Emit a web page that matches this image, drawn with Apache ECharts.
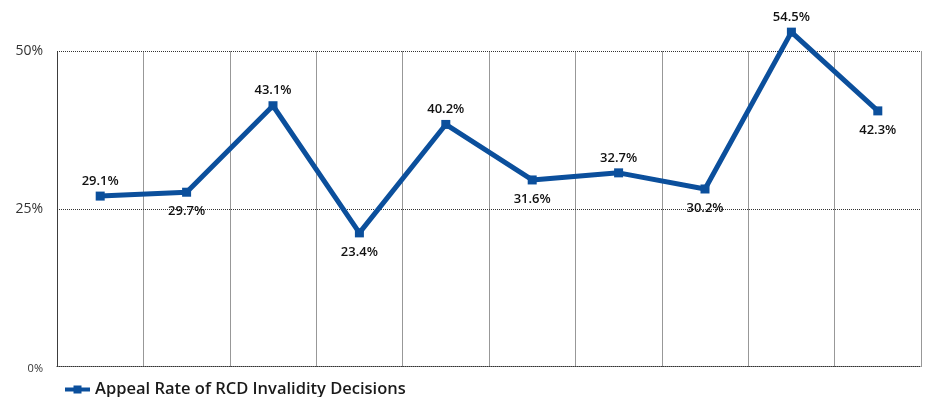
<!DOCTYPE html>
<html>
<head>
<meta charset="utf-8">
<script src="https://cdn.jsdelivr.net/npm/echarts@6/dist/echarts.min.js"></script>
<style>
  html, body { margin: 0; padding: 0; background: #fff; }
  #chart { width: 927px; height: 397px; }
</style>
</head>
<body>
<div id="chart"></div>
<script>
// Ten reporting periods (axis labels are not shown)
const periods = ['1', '2', '3', '4', '5', '6', '7', '8', '9', '10'];
// Appeal rate of RCD invalidity decisions, in percent
const appealRate = [29.1, 29.7, 43.1, 23.4, 40.2, 31.6, 32.7, 30.2, 54.5, 42.3];
// Where each value label sits relative to its point
const labelSide = ['top', 'bottom', 'top', 'bottom', 'top', 'bottom', 'top', 'bottom', 'top', 'bottom'];
// Value axis ticks
const yTicks = [0, 25, 50];

const seriesName = 'Appeal Rate of RCD Invalidity Decisions';
const lineColor = '#0b4f9c';
const gridDots = { color: '#333', type: [1, 1], width: 1 };

const chart = echarts.init(document.getElementById('chart'));

chart.setOption({
  animation: false,
  textStyle: { fontFamily: '"Open Sans", "Noto Sans", sans-serif' },
  grid: { left: 57, right: 6, top: 51.5, bottom: 30.5 },
  xAxis: {
    type: 'category',
    data: periods,
    boundaryGap: true,
    axisLine: { show: true, lineStyle: gridDots },
    axisTick: { show: false },
    axisLabel: { show: false },
    splitLine: { show: true, interval: 0, lineStyle: gridDots }
  },
  yAxis: [
    {
      type: 'value',
      min: yTicks[0],
      max: yTicks[yTicks.length - 1],
      interval: 25,
      axisLine: { show: true, lineStyle: gridDots },
      axisTick: { show: false },
      splitLine: { show: true, lineStyle: gridDots },
      axisLabel: {
        margin: 14,
        formatter: v => v === 0 ? '{s|' + v + '%}' : v + '%',
        color: '#333',
        fontSize: 14,
        rich: { s: { fontSize: 11, color: '#333', padding: [4, 0, 0, 0] } }
      }
    },
    {
      // scale used by the plotted series
      type: 'value',
      min: 2.7,
      max: 51.5,
      show: false,
      splitLine: { show: false }
    }
  ],
  legend: {
    left: 58,
    top: 376,
    itemWidth: 25,
    itemHeight: 10,
    itemGap: 8,
    lineStyle: { width: 4 },
    textStyle: { fontSize: 16.5, color: '#1a1a1a', fontWeight: 600 },
    data: [seriesName]
  },
  series: [{
    name: seriesName,
    type: 'line',
    yAxisIndex: 1,
    clip: false,
    data: appealRate.map((v, i) => ({
      value: v,
      label: { position: labelSide[i], distance: labelSide[i] === 'top' ? 4 : 8 }
    })),
    symbol: 'rect',
    symbolSize: 9,
    lineStyle: { color: lineColor, width: 5 },
    itemStyle: { color: lineColor },
    label: {
      show: true,
      formatter: p => p.value.toFixed(1) + '%',
      fontSize: 13,
      fontWeight: 600,
      color: '#111'
    }
  }]
});
</script>
</body>
</html>
